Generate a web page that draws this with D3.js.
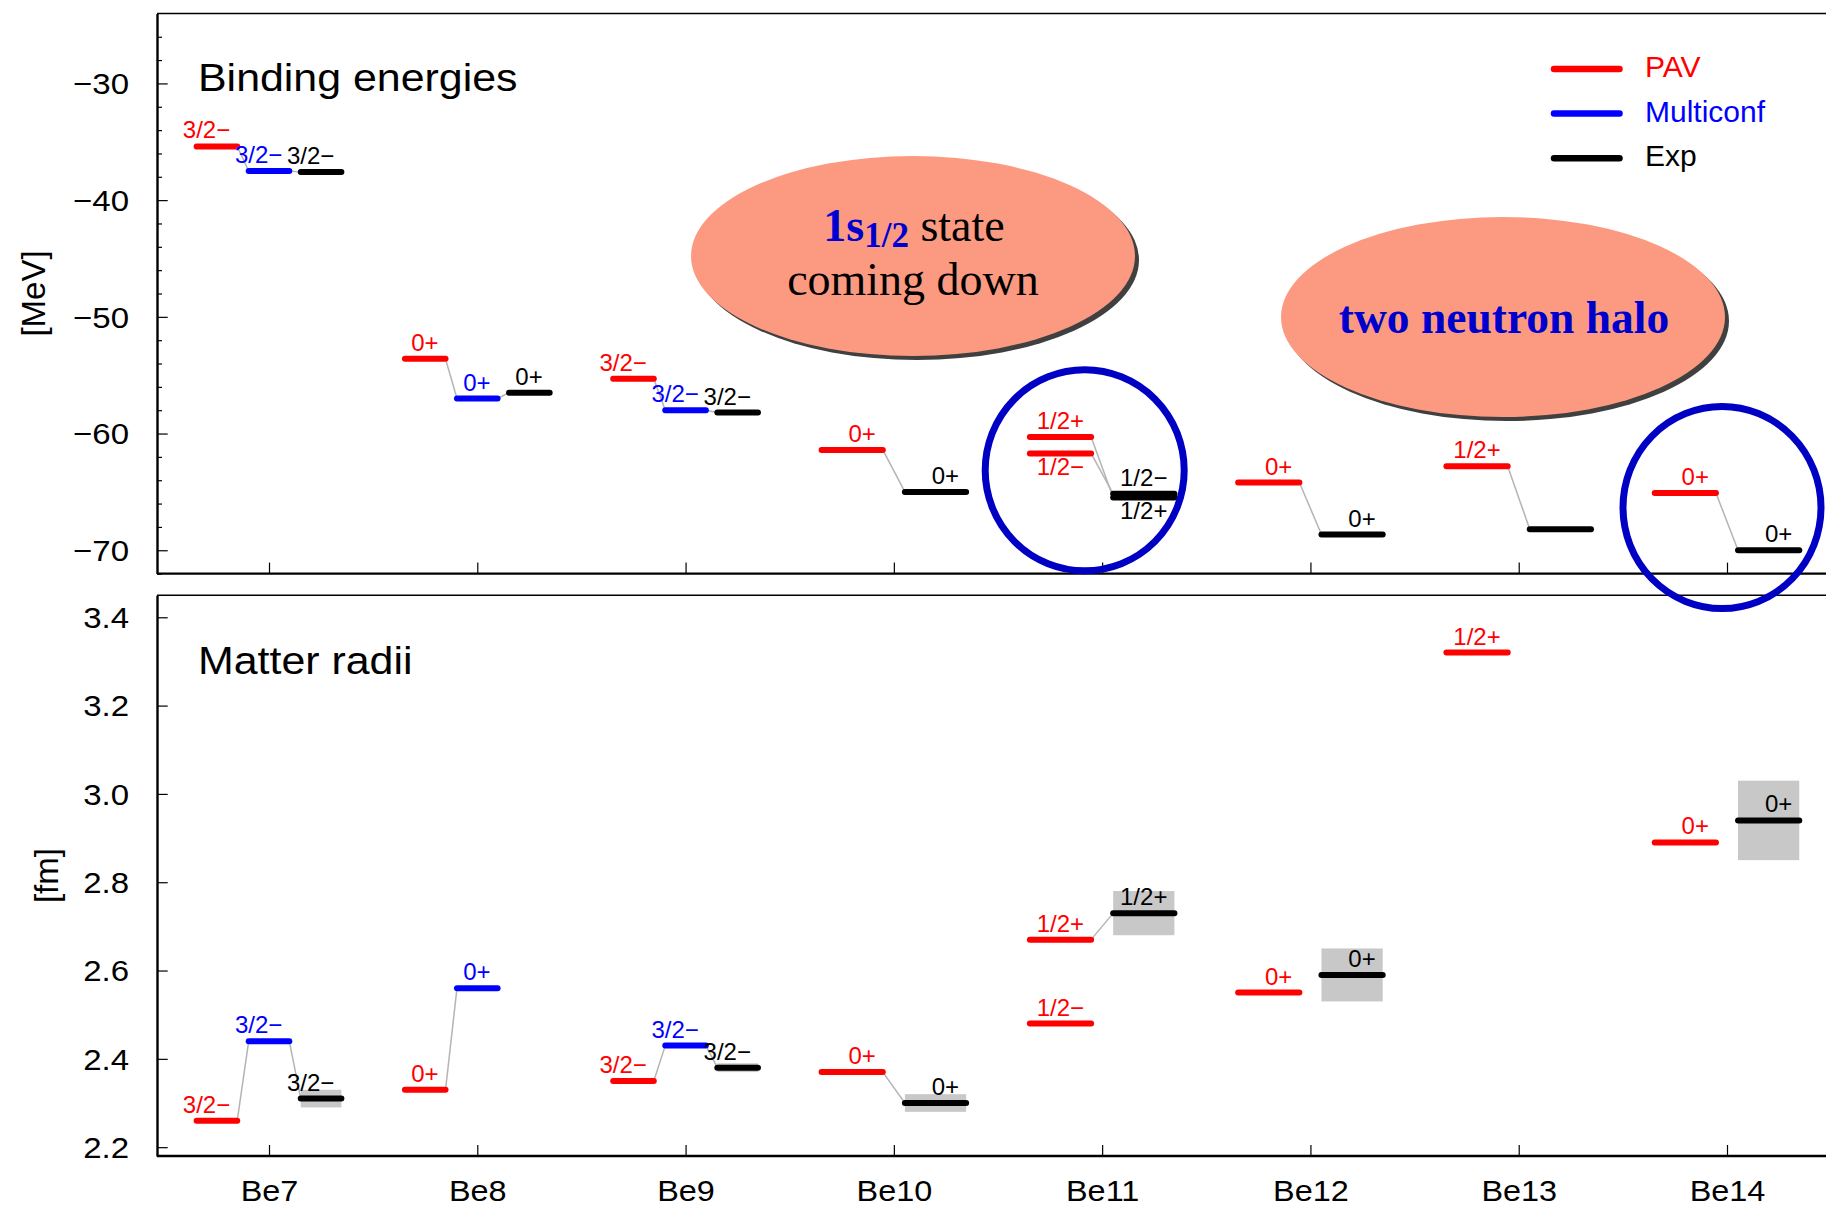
<!DOCTYPE html>
<html>
<head>
<meta charset="utf-8">
<script src="https://cdn.jsdelivr.net/npm/d3@7"></script>
<style>
  body { margin: 0; background: #fff; }
  svg { display: block; }
</style>
</head>
<body>
<svg id="chart" width="1826" height="1208"></svg>
<script>
// ---------- data ----------
const nuclei = ["Be7", "Be8", "Be9", "Be10", "Be11", "Be12", "Be13", "Be14"];

const energyTicks = [-70, -60, -50, -40, -30];
const energyMinorTicks = [-72, -68, -66, -64, -62, -58, -56, -54, -52, -48, -46, -44, -42, -38, -36, -34, -32, -28, -26];
const radiusTicks = [2.2, 2.4, 2.6, 2.8, 3.0, 3.2, 3.4];

const seriesNames = ["PAV", "Multiconf", "Exp"];
const seriesColors = ["#ff0000", "#0000ff", "#000000"];

// binding energies [MeV]
const pavEnergy = [
  { n: "Be7",  v: -35.4, j: "3/2−" },
  { n: "Be8",  v: -53.6, j: "0+" },
  { n: "Be9",  v: -55.3, j: "3/2−" },
  { n: "Be10", v: -61.4, j: "0+" },
  { n: "Be11", v: -60.3, j: "1/2+" },
  { n: "Be11", v: -61.7, j: "1/2−" },
  { n: "Be12", v: -64.2, j: "0+" },
  { n: "Be13", v: -62.8, j: "1/2+" },
  { n: "Be14", v: -65.1, j: "0+" }
];
const multiconfEnergy = [
  { n: "Be7", v: -37.5, j: "3/2−" },
  { n: "Be8", v: -57.0, j: "0+" },
  { n: "Be9", v: -58.0, j: "3/2−" }
];
const expEnergy = [
  { n: "Be7",  v: -37.6,  j: "3/2−" },
  { n: "Be8",  v: -56.5,  j: "0+" },
  { n: "Be9",  v: -58.2,  j: "3/2−" },
  { n: "Be10", v: -65.0,  j: "0+" },
  { n: "Be11", v: -65.16, j: "1/2−" },
  { n: "Be11", v: -65.48, j: "1/2+" },
  { n: "Be12", v: -68.65, j: "0+" },
  { n: "Be13", v: -68.2,  j: "" },
  { n: "Be14", v: -70.0,  j: "0+" }
];

// matter radii [fm]
const pavRadius = [
  { n: "Be7",  v: 2.26, j: "3/2−" },
  { n: "Be8",  v: 2.33, j: "0+" },
  { n: "Be9",  v: 2.35, j: "3/2−" },
  { n: "Be10", v: 2.37, j: "0+" },
  { n: "Be11", v: 2.67, j: "1/2+" },
  { n: "Be11", v: 2.48, j: "1/2−" },
  { n: "Be12", v: 2.55, j: "0+" },
  { n: "Be13", v: 3.32, j: "1/2+" },
  { n: "Be14", v: 2.89, j: "0+" }
];
const multiconfRadius = [
  { n: "Be7", v: 2.44, j: "3/2−" },
  { n: "Be8", v: 2.56, j: "0+" },
  { n: "Be9", v: 2.43, j: "3/2−" }
];
const expRadius = [
  { n: "Be7",  v: 2.31, err: 0.02, j: "3/2−" },
  { n: "Be9",  v: 2.38, err: 0.01, j: "3/2−" },
  { n: "Be10", v: 2.30, err: 0.02, j: "0+" },
  { n: "Be11", v: 2.73, err: 0.05, j: "1/2+" },
  { n: "Be12", v: 2.59, err: 0.06, j: "0+" },
  { n: "Be14", v: 2.94, err: 0.09, j: "0+" }
];
// nuclei whose radius levels are shown without connecting lines
const radiusUnlinked = ["Be12", "Be14"];

// ---------- setup ----------
const SANS = "'Liberation Sans', Arial, Helvetica, sans-serif";
const SERIF = "'Liberation Serif', 'Times New Roman', Times, serif";

const svg = d3.select("#chart");
const frame = { left: 157, right: 1840 };

const x = d3.scaleLinear().domain([0, nuclei.length - 1]).range([269, 1727]);
const yE = d3.scaleLinear().domain([-24, -72]).range([13.4, 573.6]);
const yR = d3.scaleLinear().domain([3.45, 2.18]).range([595.2, 1156]);

const withMulticonf = new Set([...multiconfEnergy, ...multiconfRadius].map(d => d.n));

// column position (in nucleus-index units) of a series inside a nucleus group
function column(n, s) {
  const i = nuclei.indexOf(n);
  if (withMulticonf.has(n)) {
    return { c: i + [-0.25, 0, 0.25][s], h: 0.0975 };
  }
  return { c: i + (s === 0 ? -0.2 : 0.2), h: 0.147 };
}

function stretchedText(parent, px, py, str, sx, opts) {
  const t = parent.append("text")
    .attr("transform", `translate(${px},${py}) scale(${sx},1)`)
    .attr("font-family", opts.family || SANS)
    .attr("font-size", opts.size)
    .attr("fill", opts.fill || "#000")
    .attr("text-anchor", opts.anchor || "start")
    .text(str);
  if (opts.weight) t.attr("font-weight", opts.weight);
  return t;
}

// ---------- panel drawing ----------
function drawPanel(yScale, seriesData, opts) {
  const g = svg.append("g");
  const [yTop, yBot] = yScale.range();

  // uncertainty boxes
  seriesData.forEach((data, s) => {
    data.filter(d => d.err).forEach(d => {
      const col = column(d.n, s);
      g.append("rect")
        .attr("x", x(col.c - col.h))
        .attr("width", x(col.c + col.h) - x(col.c - col.h))
        .attr("y", yScale(d.v + d.err))
        .attr("height", yScale(d.v - d.err) - yScale(d.v + d.err))
        .attr("fill", "#c8c8c8");
    });
  });

  // connecting lines between neighbouring columns
  nuclei.forEach(n => {
    if (opts.unlinked && opts.unlinked.includes(n)) return;
    const cols = seriesData
      .map((data, s) => ({ s, levels: data.filter(d => d.n === n) }))
      .filter(c => c.levels.length);
    for (let k = 0; k + 1 < cols.length; k++) {
      const A = cols[k], B = cols[k + 1];
      A.levels.forEach(a => {
        let b = B.levels.find(l => l.j === a.j && l.j !== "");
        if (!b && A.levels.length === 1 && B.levels.length === 1) b = B.levels[0];
        if (!b) return;
        const ca = column(n, A.s), cb = column(n, B.s);
        g.append("line")
          .attr("x1", x(ca.c + ca.h)).attr("y1", yScale(a.v))
          .attr("x2", x(cb.c - cb.h)).attr("y2", yScale(b.v))
          .attr("stroke", "#b4b4b4").attr("stroke-width", 1.5);
      });
    }
  });

  // levels and spin labels
  seriesData.forEach((data, s) => {
    data.forEach(d => {
      const col = column(d.n, s);
      const x1 = x(col.c - col.h), x2 = x(col.c + col.h), y = yScale(d.v);
      g.append("line")
        .attr("x1", x1).attr("x2", x2).attr("y1", y).attr("y2", y)
        .attr("stroke", seriesColors[s]).attr("stroke-width", 6)
        .attr("stroke-linecap", "round");
      if (!d.j) return;
      const higher = data.find(o => o !== d && o.n === d.n && o.v > d.v &&
        Math.abs(yScale(o.v) - y) < 25);
      const ly = higher ? y + 21.5 : y - 8;
      g.append("text")
        .attr("x", x2 - 7).attr("y", ly)
        .attr("text-anchor", "end")
        .attr("font-family", SANS).attr("font-size", 24)
        .attr("fill", seriesColors[s])
        .text(d.j);
    });
  });

  // frame: thin top edge, heavier left and bottom axes
  g.append("line")
    .attr("x1", frame.left).attr("x2", frame.right)
    .attr("y1", yTop).attr("y2", yTop)
    .attr("stroke", "#000").attr("stroke-width", 1.5);
  g.append("line")
    .attr("x1", frame.left).attr("x2", frame.right)
    .attr("y1", yBot).attr("y2", yBot)
    .attr("stroke", "#000").attr("stroke-width", 2.4);

  // y axis
  const ay = g.append("g").attr("transform", `translate(${frame.left},0)`)
    .call(d3.axisLeft(yScale).tickValues(opts.ticks).tickSizeInner(-10.7)
      .tickSizeOuter(0).tickPadding(0).tickFormat(opts.format));
  ay.select(".domain").attr("stroke-width", 2.4);
  ay.selectAll(".tick line").attr("stroke-width", 1.2);
  ay.selectAll(".tick text")
    .attr("font-family", SANS).attr("font-size", 30).attr("fill", "#000")
    .attr("x", -28 / 1.1).attr("dy", "0.34em")
    .attr("transform", "scale(1.1,1)");

  if (opts.minor) {
    const am = g.append("g").attr("transform", `translate(${frame.left},0)`)
      .call(d3.axisLeft(yScale).tickValues(opts.minor).tickSizeInner(-5)
        .tickSizeOuter(0).tickFormat(""));
    am.select(".domain").remove();
    am.selectAll(".tick line").attr("stroke-width", 1.2);
  }

  // x axis ticks (pointing inwards)
  const ax = g.append("g").attr("transform", `translate(0,${yBot})`)
    .call(d3.axisBottom(x).tickValues(d3.range(nuclei.length))
      .tickSizeInner(-11).tickSizeOuter(0)
      .tickFormat(opts.xLabels ? (i => nuclei[i]) : ""));
  ax.select(".domain").remove();
  ax.selectAll(".tick line").attr("stroke-width", 1.2);
  if (opts.xLabels) {
    ax.selectAll(".tick text")
      .attr("font-family", SANS).attr("font-size", 30).attr("fill", "#000")
      .attr("y", 45).attr("dy", null)
      .attr("transform", "scale(1.08,1)");
  }

  // axis title (unit)
  g.append("text")
    .attr("transform", `translate(${opts.unitX},${(yTop + yBot) / 2 + opts.unitDy}) rotate(-90)`)
    .attr("text-anchor", "middle").attr("dy", "0.35em")
    .attr("font-family", SANS).attr("font-size", 33).attr("fill", "#000")
    .text(opts.unit);

  // panel title
  stretchedText(g, 198, yTop + opts.titleDy, opts.title, 1.1, { size: 39 });
  return g;
}

drawPanel(yE, [pavEnergy, multiconfEnergy, expEnergy], {
  ticks: energyTicks, minor: energyMinorTicks, format: d3.format("d"),
  unit: "[MeV]", unitX: 33, unitDy: 0, title: "Binding energies", titleDy: 77.5,
  xLabels: false
});

drawPanel(yR, [pavRadius, multiconfRadius, expRadius], {
  ticks: radiusTicks, format: d3.format(".1f"),
  unit: "[fm]", unitX: 46, unitDy: 0, title: "Matter radii", titleDy: 79,
  xLabels: true, unlinked: radiusUnlinked
});

// ---------- legend ----------
const legend = svg.append("g");
seriesNames.forEach((name, s) => {
  const ly = 69 + s * 44.6;
  legend.append("line")
    .attr("x1", 1554).attr("x2", 1619.5).attr("y1", ly).attr("y2", ly)
    .attr("stroke", seriesColors[s]).attr("stroke-width", 6.5)
    .attr("stroke-linecap", "round");
  legend.append("text")
    .attr("x", 1645).attr("y", ly + 8)
    .attr("font-family", SANS).attr("font-size", 30)
    .attr("fill", seriesColors[s])
    .text(name);
});

// ---------- annotation bubbles ----------
const notes = svg.append("g");
function bubble(cx, cy) {
  notes.append("ellipse")
    .attr("cx", cx + 4).attr("cy", cy + 4).attr("rx", 222).attr("ry", 100)
    .attr("fill", "#404040");
  notes.append("ellipse")
    .attr("cx", cx).attr("cy", cy).attr("rx", 222).attr("ry", 100)
    .attr("fill", "#fb9a81");
}
bubble(913, 256);
bubble(1503, 317);

const line1 = notes.append("text")
  .attr("x", 914).attr("y", 241).attr("text-anchor", "middle")
  .attr("font-family", SERIF).attr("font-size", 46);
line1.append("tspan").attr("font-weight", "bold").attr("fill", "#0000d0").text("1s");
line1.append("tspan").attr("font-weight", "bold").attr("fill", "#0000d0")
  .attr("font-size", 35).attr("dy", 6).text("1/2");
line1.append("tspan").attr("fill", "#000").attr("dy", -6).text(" state");

notes.append("text")
  .attr("x", 913).attr("y", 295).attr("text-anchor", "middle")
  .attr("font-family", SERIF).attr("font-size", 46).attr("fill", "#000")
  .text("coming down");

notes.append("text")
  .attr("x", 1504).attr("y", 332.5).attr("text-anchor", "middle")
  .attr("font-family", SERIF).attr("font-size", 45.5).attr("font-weight", "bold")
  .attr("fill", "#0000cc")
  .text("two neutron halo");

// highlight rings around Be11 and Be14
notes.append("ellipse")
  .attr("cx", 1084.7).attr("cy", 470.3).attr("rx", 99.5).attr("ry", 100.5)
  .attr("fill", "none").attr("stroke", "#0000c4").attr("stroke-width", 7);
notes.append("ellipse")
  .attr("cx", 1722).attr("cy", 507.5).attr("rx", 99).attr("ry", 101)
  .attr("fill", "none").attr("stroke", "#0000c4").attr("stroke-width", 7);
</script>
</body>
</html>
